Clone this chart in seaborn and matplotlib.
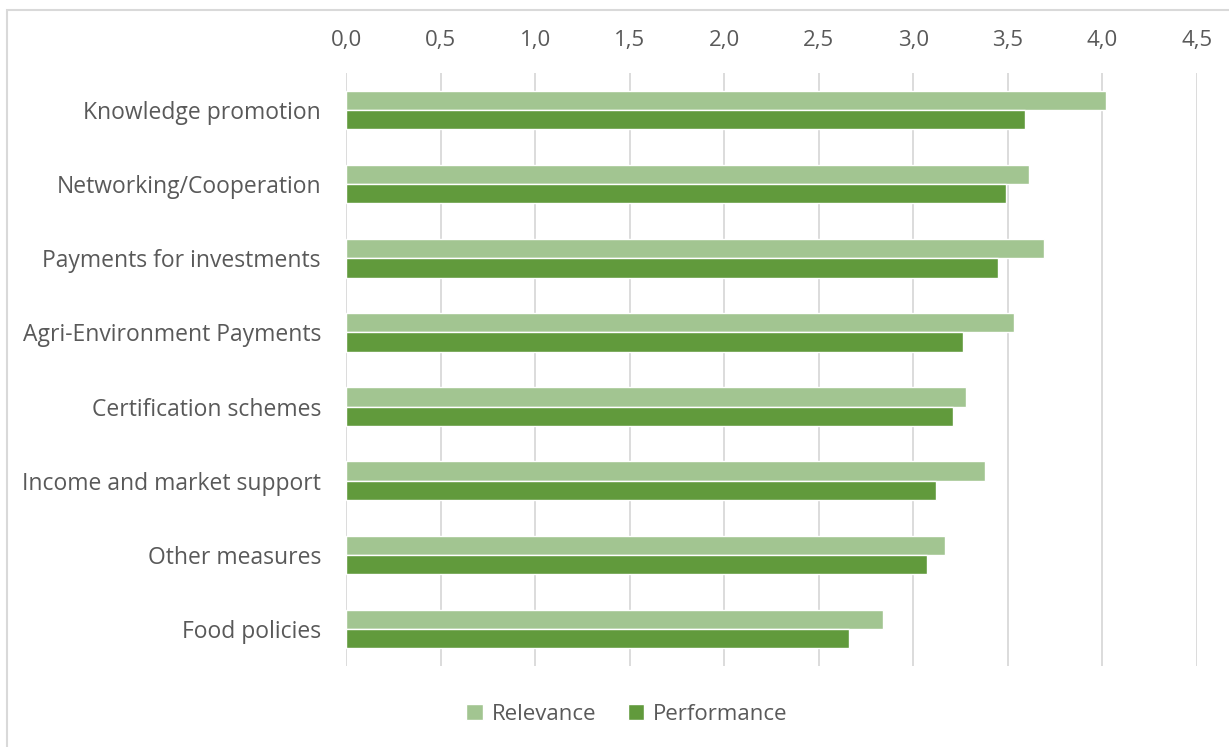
import seaborn as sns
import matplotlib.pyplot as plt
import pandas as pd
from matplotlib.patches import Rectangle
from matplotlib.ticker import FuncFormatter

# chart data
measures = ['Knowledge promotion', 'Networking/Cooperation', 'Payments for investments',
            'Agri-Environment Payments', 'Certification schemes', 'Income and market support',
            'Other measures', 'Food policies']
relevance = [4.02, 3.61, 3.69, 3.53, 3.28, 3.38, 3.17, 2.84]
performance = [3.59, 3.49, 3.45, 3.26, 3.21, 3.12, 3.07, 2.66]
series = ['Relevance', 'Performance']
colors = ['#A2C591', '#619A3C']

df = pd.DataFrame({
    'measure': measures * 2,
    'score': relevance + performance,
    'series': ['Relevance'] * len(measures) + ['Performance'] * len(measures),
})

sns.set_style('white')
plt.rcParams['font.family'] = ['Open Sans', 'DejaVu Sans']
text_color = '#595959'

fig = plt.figure(figsize=(12.29, 7.47), dpi=100)
ax = fig.add_axes([346 / 1229, 1 - 666 / 747, 851 / 1229, 593 / 747])

sns.barplot(data=df, y='measure', x='score', hue='series', order=measures,
            hue_order=series, palette=colors, width=0.52, saturation=1,
            ax=ax, legend=True)

ax.set_xlim(0, 4.5)
ax.set_xticks([i * 0.5 for i in range(10)])
ax.xaxis.set_major_formatter(FuncFormatter(lambda v, p: f'{v:.1f}'.replace('.', ',')))
ax.xaxis.tick_top()
ax.grid(axis='x', color='#d9d9d9', linewidth=1.3)
ax.set_axisbelow(True)
ax.tick_params(axis='x', length=0, pad=16, labelsize=16, labelcolor=text_color)
ax.tick_params(axis='y', length=0, pad=18, labelsize=16.5, labelcolor=text_color)
ax.set_xlabel('')
ax.set_ylabel('')
for s in ax.spines.values():
    s.set_visible(False)

handles, labels = ax.get_legend_handles_labels()
ax.get_legend().remove()
fig.legend(handles, labels, loc='center', bbox_to_anchor=(627 / 1229, 1 - 714 / 747),
           ncol=2, frameon=False, fontsize=16, labelcolor=text_color,
           handlelength=0.75, handleheight=0.75, handletextpad=0.4, columnspacing=1.4)

# outer chart border
fig.patches.append(Rectangle((7 / 1229, -0.05), 1.1, 1 - 10 / 747 + 0.05,
                             transform=fig.transFigure, fill=False,
                             edgecolor='#d9d9d9', linewidth=1.5))

fig.savefig('out.png', dpi=100)
